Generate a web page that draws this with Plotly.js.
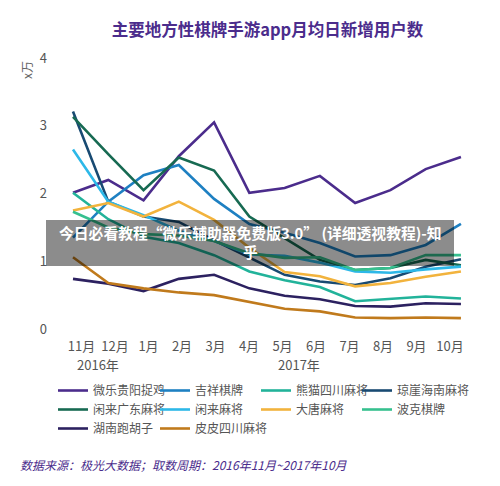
<!DOCTYPE html>
<html>
<head>
<meta charset="utf-8">
<script src="https://cdn.plot.ly/plotly-3.0.1.min.js"></script>
<style>
html,body{margin:0;padding:0;background:#fff;}
#chart{width:500px;height:486px;}
</style>
</head>
<body>
<div id="chart"></div>
<script>
const months = ['11月','12月','1月','2月','3月','4月','5月','6月','7月','8月','9月','10月'];
const yTicks = [0, 1, 2, 3, 4];
const seriesNames = ['微乐贵阳捉鸡','吉祥棋牌','熊猫四川麻将','琼崖海南麻将','闲来广东麻将','闲来麻将','大唐麻将','波克棋牌','湖南跑胡子','皮皮四川麻将'];
const weileGuiyang = [2.01, 2.20, 1.90, 2.55, 3.05, 2.01, 2.08, 2.26, 1.86, 2.05, 2.36, 2.54];
const jixiang      = [1.35, 1.88, 2.27, 2.42, 1.92, 1.55, 1.42, 1.27, 1.07, 1.09, 1.24, 1.55];
const xiongmao     = [2.01, 1.62, 1.36, 1.27, 1.09, 0.85, 0.72, 0.62, 0.41, 0.44, 0.48, 0.45];
const qiongya      = [3.21, 1.88, 1.66, 1.58, 1.31, 1.05, 0.80, 0.70, 0.65, 0.75, 0.92, 1.03];
const xianlaiGD    = [3.13, 2.58, 2.05, 2.53, 2.34, 1.66, 1.34, 1.02, 0.87, 0.90, 1.02, 0.94];
const xianlai      = [2.65, 1.88, 1.68, 1.45, 1.30, 1.10, 1.08, 0.98, 0.85, 0.83, 0.88, 0.92];
const datang       = [1.75, 1.86, 1.66, 1.88, 1.61, 1.20, 0.84, 0.78, 0.63, 0.68, 0.77, 0.85];
const boke         = [1.73, 1.50, 1.40, 1.38, 1.30, 1.12, 1.05, 1.06, 0.87, 0.90, 1.09, 1.09];
const hunan        = [0.74, 0.67, 0.56, 0.74, 0.80, 0.60, 0.49, 0.44, 0.34, 0.33, 0.38, 0.37];
const pipi         = [1.06, 0.68, 0.60, 0.54, 0.50, 0.40, 0.30, 0.26, 0.17, 0.16, 0.17, 0.16];
const yearLabels = ['2016年', '2017年'];
const titleText = '主要地方性棋牌手游app月均日新增用户数';
const unitText = 'x万';
const sourceText = '数据来源：极光大数据；取数周期：2016年11月~2017年10月';
const bannerText = '今日必看教程“微乐辅助器免费版3.0” (详细透视教程)-知<br>乎';

const allValues = [weileGuiyang, jixiang, xiongmao, qiongya, xianlaiGD, xianlai, datang, boke, hunan, pipi];
const colors = ['#4B2C8C','#1E80C2','#22B39A','#184A72','#176A52','#2DB8E8','#F2B33D','#36C08F','#2C2160','#C07A1C'];

const W = 500, H = 486;
const mL = 55, mR = 20, mT = 58, mB = 157;
const plotW = W - mL - mR, plotH = H - mT - mB;
const xMin = -0.51, xMax = 11.54;
const px2x = px => xMin + (px - mL) / plotW * (xMax - xMin);
const pxPaperX = px => (px - mL) / plotW;
const pxPaperY = py => (H - mB - py) / plotH;

// legend columns: 4 columns laid out row-major like the original
const legendIds = ['legend', 'legend2', 'legend3', 'legend4'];
const legendTextX = [94, 196, 297, 398];

const monthIdx = months.map((m, i) => i);
const traces = seriesNames.map((name, k) => ({
  type: 'scatter', mode: 'lines', name: name,
  x: monthIdx, y: allValues[k],
  line: {color: colors[k], width: 2.6},
  legend: legendIds[k % 4],
  hoverinfo: 'skip'
}));

const labelStart = px2x(81.5), labelEnd = px2x(450);
const tickPos = months.map((m, i) => labelStart + (labelEnd - labelStart) * i / (months.length - 1));

const font = '"Noto Sans CJK SC", "Noto Sans", sans-serif';
const legendBase = (col) => ({
  orientation: 'v', x: pxPaperX(legendTextX[col] - 41), xanchor: 'left', y: pxPaperY(376), yanchor: 'top',
  font: {size: 12, color: '#555'}, bgcolor: 'rgba(0,0,0,0)', borderwidth: 0,
  tracegroupgap: 0, itemclick: false, itemdoubleclick: false, traceorder: 'normal'
});

const layout = {
  width: W, height: H,
  margin: {l: mL, r: mR, t: mT, b: mB, pad: 0, autoexpand: false},
  paper_bgcolor: '#fff', plot_bgcolor: '#fff',
  font: {family: font, color: '#555', size: 12},
  title: {text: '<b>' + titleText + '</b>', font: {family: font, size: 16.5, color: '#4B2C8C'},
          x: 0.5, xref: 'paper', xanchor: 'center', y: 1 - 30 / H, yanchor: 'middle'},
  xaxis: {range: [xMin, xMax], showgrid: false, zeroline: false, showline: false,
          tickmode: 'array', tickvals: tickPos, ticktext: months, ticks: '',
          tickfont: {size: 13, color: '#555'}, ticklabelstandoff: 8, fixedrange: true},
  yaxis: {range: [0, 4], showgrid: false, zeroline: false, showline: false,
          tickmode: 'array', tickvals: yTicks, ticktext: yTicks.map(String), ticks: '',
          tickfont: {size: 13, color: '#555'}, ticklabelstandoff: 7, fixedrange: true},
  showlegend: true,
  legend: legendBase(0), legend2: legendBase(1), legend3: legendBase(2), legend4: legendBase(3),
  annotations: [
    {text: yearLabels[0], xref: 'paper', yref: 'paper', x: pxPaperX(98), y: pxPaperY(364),
     showarrow: false, font: {size: 13, color: '#555'}, xanchor: 'center', yanchor: 'middle'},
    {text: yearLabels[1], xref: 'paper', yref: 'paper', x: pxPaperX(299), y: pxPaperY(364),
     showarrow: false, font: {size: 13, color: '#555'}, xanchor: 'center', yanchor: 'middle'},
    {text: unitText, xref: 'paper', yref: 'paper', x: pxPaperX(27), y: pxPaperY(70),
     showarrow: false, textangle: -90, font: {size: 12, color: '#666'}, xanchor: 'center', yanchor: 'middle'},
    {text: sourceText, xref: 'paper', yref: 'paper', x: pxPaperX(18), y: pxPaperY(465),
     showarrow: false, font: {size: 12, color: '#4B2C8C', style: 'italic'}, xanchor: 'left', yanchor: 'middle'},
    {text: '<b>' + bannerText + '</b>', xref: 'paper', yref: 'paper', x: pxPaperX(250), y: pxPaperY(242),
     showarrow: false, font: {size: 14.8, color: '#fff'}, xanchor: 'center', yanchor: 'middle', align: 'center'}
  ],
  shapes: [
    {type: 'rect', xref: 'paper', yref: 'paper', x0: pxPaperX(46), x1: pxPaperX(454),
     y0: pxPaperY(220), y1: pxPaperY(266), fillcolor: 'rgba(0,0,0,0.45)', line: {width: 0}, layer: 'above'}
  ]
};

Plotly.newPlot('chart', traces, layout, {displayModeBar: false, staticPlot: true});
</script>
</body>
</html>
